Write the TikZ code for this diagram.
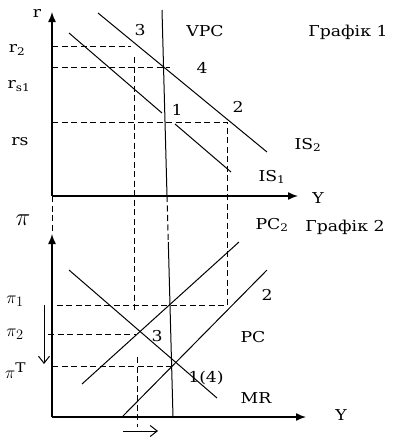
\documentclass[tikz,border=0pt]{standalone}
\usepackage{fontspec}
\setmainfont{DejaVu Serif}[FakeStretch=1.15]
\usetikzlibrary{arrows.meta}
\begin{document}
\begin{tikzpicture}[x=1pt,y=-1pt,
  curve/.style={line width=1pt},
  axis/.style={line width=1.4pt,-{Latex[length=10pt,width=8pt]}},
  guide/.style={line width=1pt,dash pattern=on 6pt off 3.5pt},
  lbl/.style={font=\fontsize{15}{17}\selectfont,inner sep=0pt},
  pilbl/.style={font=\fontsize{19}{21}\selectfont,inner sep=0pt},
  shiftarrow/.style={line width=1pt,-{Straight Barb[length=7pt,width=11pt]}}]
\useasboundingbox (0,0) rectangle (393,440);
% ---------- coordinates, graph 1
\coordinate (O1) at (52,196);
\coordinate (rtip) at (52,12);
\coordinate (Y1tip) at (298,196);
\coordinate (vpcA) at (162,10);
\coordinate (vpcB) at (167,196);
\coordinate (vpcC) at (168.3,242);
\coordinate (vpcD) at (173,417);
\coordinate (is1A) at (69,33);
\coordinate (is1B) at (162,113);
\coordinate (is1C) at (175,124);
\coordinate (is1D) at (231,172);
\coordinate (is2A) at (98,13);
\coordinate (is2B) at (267,152);
\coordinate (r2L) at (52,46);
\coordinate (r2R) at (131,46);
\coordinate (v3T) at (134,57);
\coordinate (v3B) at (134,313);
\coordinate (rs1L) at (52,67);
\coordinate (rs1R) at (170,67);
\coordinate (rsL) at (52,122);
\coordinate (rsR) at (227,122);
\coordinate (p2low) at (227,305);
\coordinate (pi1L) at (52,305);
\coordinate (axT) at (52,234);
% ---------- coordinates, graph 2
\coordinate (O2) at (52,417);
\coordinate (Y2tip) at (306,417);
\coordinate (mrA) at (69,270);
\coordinate (mrB) at (217,398);
\coordinate (pc2A) at (82,384);
\coordinate (pc2B) at (239,242);
\coordinate (pcA) at (123,416);
\coordinate (pcB) at (267,270);
\coordinate (pi2L) at (48,334);
\coordinate (pi2R) at (136,334);
\coordinate (piTL) at (52,366);
\coordinate (piTR) at (173,366);
\coordinate (vlT) at (137,357);
\coordinate (vlB) at (137,427);
\coordinate (dnA) at (44,305);
\coordinate (dnB) at (44,364);
\coordinate (rtA) at (123,431);
\coordinate (rtB) at (158,431);
% ---------- axes
\draw[axis] (O1) -- (rtip);
\draw[axis] (O1) -- (Y1tip);
\draw[axis] (O2) -- (axT);
\draw[axis] (O2) -- (Y2tip);
% ---------- curves
\draw[curve] (vpcA) -- (vpcB);
\draw[curve] (vpcC) -- (vpcD);
\draw[guide] (vpcB) -- (vpcC);
\draw[curve] (is1A) -- (is1B);
\draw[curve] (is1C) -- (is1D);
\draw[curve] (is2A) -- (is2B);
\draw[curve] (mrA) -- (mrB);
\draw[curve] (pc2A) -- (pc2B);
\draw[curve] (pcA) -- (pcB);
% ---------- guides
\draw[guide] (r2L) -- (r2R);
\draw[guide] (v3T) -- (v3B);
\draw[guide] (rs1L) -- (rs1R);
\draw[guide] (rsL) -- (rsR) -- (p2low) -- (pi1L);
\draw[guide] (O1) -- (axT);
\draw[guide] (pi2L) -- (pi2R);
\draw[guide] (piTL) -- (piTR);
\draw[guide] (vlT) -- (vlB);
% ---------- shift arrows
\draw[shiftarrow] (dnA) -- (dnB);
\draw[shiftarrow] (rtA) -- (rtB);
% ---------- labels graph 1
\node[lbl] (lr) at (37,13) {r};
\node[lbl] (lr2) at (17,50) {r\textsubscript{2}};
\node[lbl] (lrs1) at (19,86) {r\textsubscript{s1}};
\node[lbl] (lrs) at (20,142) {rs};
\node[lbl] (l3a) at (140,30) {3};
\node[lbl] (lvpc) at (205,31) {VPC};
\node[lbl] (lg1) at (348,32) {Графік 1};
\node[lbl] (l4) at (202,68) {4};
\node[lbl] (l2a) at (238,107) {2};
\node[lbl] (l1) at (177,110) {1};
\node[lbl] (lis2) at (308,145) {IS\textsubscript{2}};
\node[lbl] (lis1) at (272,177) {IS\textsubscript{1}};
\node[lbl] (lY1) at (318,198) {Y};
% ---------- labels graph 2
\node[lbl,font=\fontsize{28}{30}\selectfont] (lpi) at (23,220) {$\pi$};
\node[lbl] (lpc2) at (272,225) {PC\textsubscript{2}};
\node[lbl] (lg2) at (345,227) {Графік 2};
\node[pilbl] (lpi1) at (15,301) {$\pi_1$};
\node[lbl] (l2b) at (267,295) {2};
\node[pilbl] (lpi2) at (15,334) {$\pi_2$};
\node[lbl] (l3b) at (157,336) {3};
\node[lbl] (lpc) at (253,337) {PC};
\node[pilbl] (lpiT) at (15,371) {$\pi^{\mathrm{T}}$};
\node[lbl] (l14) at (206,378) {1(4)};
\node[lbl] (lmr) at (256,398) {MR};
\node[lbl] (lY2) at (341,415) {Y};
\end{tikzpicture}
\end{document}
